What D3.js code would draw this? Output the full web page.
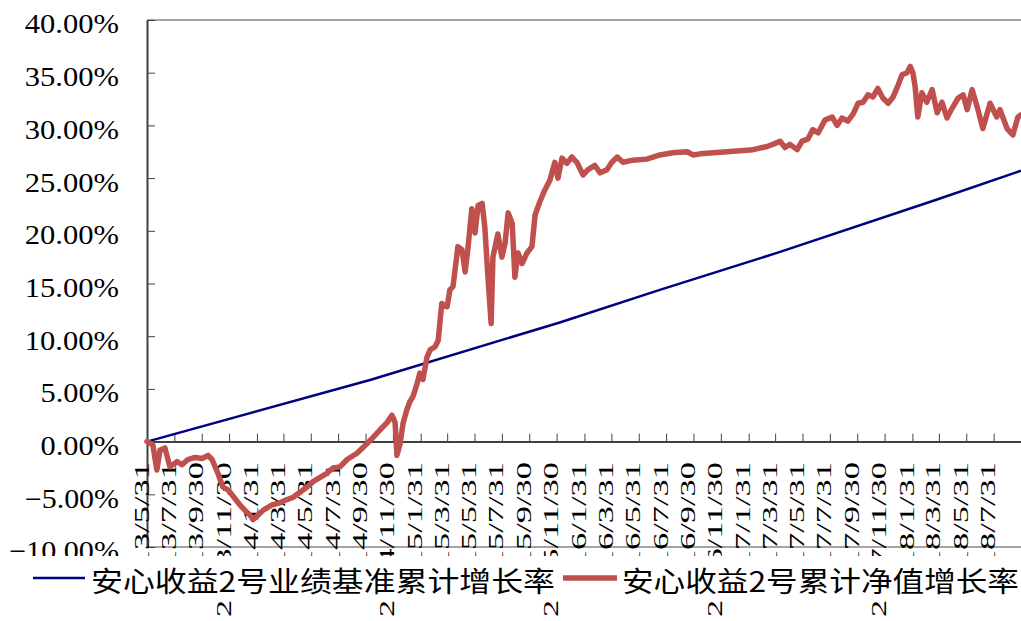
<!DOCTYPE html>
<html>
<head>
<meta charset="utf-8">
<script src="https://cdn.jsdelivr.net/npm/d3@7"></script>
<style>
  body { margin: 0; background: #fff; }
</style>
</head>
<body>
<script>
// donnees (valeurs en %)
const navDates = [
  "2013-05-31","2013-06-13","2013-06-22","2013-06-29","2013-07-10","2013-07-21","2013-08-06","2013-08-17",
  "2013-08-30","2013-09-15","2013-10-01","2013-10-14","2013-10-23","2013-11-05","2013-11-16","2013-11-28",
  "2013-12-13","2013-12-24","2014-01-04","2014-01-16","2014-01-22","2014-02-02","2014-02-14","2014-03-06",
  "2014-03-23","2014-04-08","2014-04-21","2014-05-07","2014-05-23","2014-06-05","2014-06-21","2014-07-06",
  "2014-07-20","2014-08-04","2014-08-20","2014-09-11","2014-10-03","2014-10-17","2014-11-01","2014-11-17",
  "2014-11-28","2014-12-05","2014-12-09","2014-12-16","2014-12-23","2014-12-31","2015-01-07","2015-01-14",
  "2015-01-23","2015-01-29","2015-02-05","2015-02-14","2015-02-21","2015-03-04","2015-03-11","2015-03-19",
  "2015-03-31","2015-04-06","2015-04-13","2015-04-24","2015-05-03","2015-05-10","2015-05-16","2015-05-25",
  "2015-06-01","2015-06-08","2015-06-17","2015-06-23","2015-06-30","2015-07-07","2015-07-11","2015-07-22",
  "2015-07-31","2015-08-07","2015-08-14","2015-08-23","2015-08-29","2015-09-05","2015-09-14","2015-09-25",
  "2015-10-06","2015-10-13","2015-10-24","2015-11-04","2015-11-15","2015-11-26","2015-12-03","2015-12-12",
  "2015-12-23","2016-01-03","2016-01-14","2016-01-28","2016-02-08","2016-02-23","2016-03-06","2016-03-21",
  "2016-04-01","2016-04-13","2016-04-26","2016-05-18","2016-06-18","2016-07-17","2016-08-15","2016-09-16",
  "2016-09-29","2016-10-15","2016-11-13","2016-12-14","2017-01-12","2017-02-10","2017-03-13","2017-03-26",
  "2017-04-11","2017-04-22","2017-05-03","2017-05-19","2017-05-30","2017-06-12","2017-06-23","2017-07-05",
  "2017-07-20","2017-08-05","2017-08-16","2017-08-27","2017-09-09","2017-09-21","2017-10-02","2017-10-13",
  "2017-10-24","2017-11-04","2017-11-15","2017-11-26","2017-12-08","2017-12-19","2017-12-30","2018-01-08",
  "2018-01-19","2018-01-26","2018-02-01","2018-02-06","2018-02-12","2018-02-21","2018-03-04","2018-03-16",
  "2018-03-27","2018-04-07","2018-04-18","2018-04-29","2018-05-13","2018-05-24","2018-06-02","2018-06-13",
  "2018-06-26","2018-07-07","2018-07-23","2018-08-07","2018-08-14","2018-08-30","2018-09-12","2018-09-23",
  "2018-09-30"
];
const navGrowth = [
  0.0,-0.3,-2.7,-0.8,-0.6,-2.4,-1.9,-2.2,
  -1.7,-1.5,-1.6,-1.3,-1.7,-3.0,-4.3,-4.6,
  -5.4,-6.0,-6.5,-7.0,-7.4,-7.0,-6.5,-6.0,
  -5.8,-5.5,-5.3,-4.8,-4.3,-3.8,-3.4,-3.0,
  -2.5,-2.4,-1.7,-1.1,-0.2,0.4,1.1,1.8,
  2.5,1.8,-1.3,-0.2,1.8,3.0,3.8,4.3,
  5.5,6.5,5.9,8.0,8.7,9.0,9.6,13.1,
  12.8,14.4,14.7,18.5,18.2,16.1,18.2,22.1,
  19.8,22.4,22.6,20.3,15.6,11.2,17.5,19.7,
  17.5,18.8,21.7,20.7,15.6,17.9,16.9,17.9,
  18.5,21.5,22.8,23.9,24.8,26.5,25.0,26.9,
  26.4,27.0,26.5,25.3,25.8,26.2,25.5,25.8,
  26.5,27.0,26.5,26.7,26.8,27.2,27.4,27.5,
  27.2,27.3,27.4,27.5,27.6,27.7,28.0,28.2,
  28.5,27.9,28.2,27.7,28.5,28.7,29.6,29.3,
  30.5,30.8,30.0,30.7,30.4,31.1,32.1,32.2,
  32.9,32.7,33.5,32.6,32.1,32.7,33.8,34.8,
  35.0,35.6,35.0,33.7,30.8,33.1,32.2,33.4,
  31.2,32.2,30.7,31.6,32.6,32.9,31.5,33.4,
  31.5,29.7,32.1,30.8,31.5,29.7,29.1,30.8,
  31.0
];

const benchDates = ["2013-05-31","2014-10-10","2015-12-07","2016-07-17","2017-04-11","2018-03-22","2018-09-30"];
const benchGrowth = [0.0, 5.85, 11.3, 14.4, 18.0, 22.9, 25.7];

const tickLabels = [
  "2013/5/31","2013/7/31","2013/9/30","2013/11/30",
  "2014/1/31","2014/3/31","2014/5/31","2014/7/31","2014/9/30","2014/11/30",
  "2015/1/31","2015/3/31","2015/5/31","2015/7/31","2015/9/30","2015/11/30",
  "2016/1/31","2016/3/31","2016/5/31","2016/7/31","2016/9/30","2016/11/30",
  "2017/1/31","2017/3/31","2017/5/31","2017/7/31","2017/9/30","2017/11/30",
  "2018/1/31","2018/3/31","2018/5/31","2018/7/31"
];
const yTicks = [-0.10, -0.05, 0, 0.05, 0.10, 0.15, 0.20, 0.25, 0.30, 0.35, 0.40];

const benchName = "安心收益2号业绩基准累计增长率";
const navName = "安心收益2号累计净值增长率";

const W = 1021, H = 621;
const mLeft = 147, mRight = 1021, mTop = 20, mBottom = 547;

const parse = d3.timeParse("%Y-%m-%d");
const parseTick = d3.timeParse("%Y/%m/%d");
const fmtTick = d3.timeFormat("%Y/%-m/%-d");

const nav = navDates.map((d, i) => ({ date: parse(d), v: navGrowth[i] / 100 }));
const bench = benchDates.map((d, i) => ({ date: parse(d), v: benchGrowth[i] / 100 }));
const tickDates = tickLabels.map(parseTick);

let svg = d3.select("body")
    .append("svg")
    .attr("width", W)
    .attr("height", H)
    .style("display", "block");

svg.append("rect").attr("width", W).attr("height", H).attr("fill", "#fff");

const x = d3.scaleTime()
    .domain([parse("2013-05-31"), parse("2018-09-30")])
    .range([mLeft, mRight]);
const y = d3.scaleLinear()
    .domain([-0.10, 0.40])
    .range([mBottom, mTop]);

// cadre de la zone de tracé
svg.append("line")
    .attr("x1", mLeft).attr("x2", mRight)
    .attr("y1", mTop).attr("y2", mTop)
    .attr("stroke", "#868686").attr("stroke-width", 1.5);
svg.append("line")
    .attr("x1", mLeft).attr("x2", mRight)
    .attr("y1", mBottom).attr("y2", mBottom)
    .attr("stroke", "#868686").attr("stroke-width", 1.5);

// axe Y
const fmtPct = d3.format(".2%");
const yAxis = svg.append("g")
    .attr("transform", `translate(${mLeft},0)`)
    .call(d3.axisLeft(y).tickValues(yTicks).tickSizeInner(-8).tickSizeOuter(0).tickPadding(28).tickFormat(fmtPct));
yAxis.select(".domain").attr("stroke", "#404040").attr("stroke-width", 2);
yAxis.selectAll(".tick line").attr("stroke", "#404040").attr("stroke-width", 1);
yAxis.selectAll("text")
    .attr("dy", "0.48em")
    .style("font-family", "'Liberation Serif', serif")
    .style("font-size", "27px")
    .attr("fill", "#000")
    .attr("textLength", d => fmtPct(d).length * 15.7)
    .attr("lengthAdjust", "spacingAndGlyphs");

// axe X (sur la ligne 0)
const xAxis = svg.append("g")
    .attr("transform", `translate(0,${y(0)})`)
    .call(d3.axisBottom(x).tickValues(tickDates).tickSizeInner(-8).tickSizeOuter(0).tickFormat(fmtTick));
xAxis.select(".domain").attr("stroke", "#404040").attr("stroke-width", 2);
xAxis.selectAll(".tick line").attr("stroke", "#404040").attr("stroke-width", 1);
xAxis.selectAll("text")
    .attr("transform", "rotate(-90)")
    .attr("x", -(462 - y(0)))
    .attr("y", 1)
    .attr("dy", 0)
    .attr("text-anchor", "end")
    .style("font-family", "'Liberation Serif', serif")
    .style("font-size", "20px")
    .attr("fill", "#000")
    .attr("textLength", d => fmtTick(d).length * 15.5)
    .attr("lengthAdjust", "spacingAndGlyphs");

// courbes
const line = d3.line()
    .x(d => x(d.date))
    .y(d => y(d.v));

svg.append("path")
    .datum(bench)
    .attr("d", line)
    .attr("fill", "none")
    .attr("stroke", "#000080")
    .attr("stroke-width", 2.5);

svg.append("path")
    .datum(nav)
    .attr("d", line)
    .attr("fill", "none")
    .attr("stroke", "#C0504D")
    .attr("stroke-width", 5.5)
    .attr("stroke-linejoin", "round")
    .attr("stroke-linecap", "round");

// légende
const legend = svg.append("g");
legend.append("rect")
    .attr("x", 0).attr("y", 556)
    .attr("width", W).attr("height", 45)
    .attr("fill", "#fff");

const items = [
  { name: benchName, color: "#000080", w: 2.5, x0: 33, x1: 85, tx: 91, tl: 464 },
  { name: navName, color: "#C0504D", w: 5.5, x0: 563, x1: 617, tx: 622, tl: 397 }
];
items.forEach(it => {
  legend.append("line")
    .attr("x1", it.x0).attr("x2", it.x1)
    .attr("y1", 578).attr("y2", 578)
    .attr("stroke", it.color)
    .attr("stroke-width", it.w);
  legend.append("text")
    .attr("x", it.tx).attr("y", 592)
    .style("font-family", "'Noto Sans CJK SC', sans-serif")
    .style("font-size", "28px")
    .attr("fill", "#000")
    .attr("textLength", it.tl)
    .attr("lengthAdjust", "spacingAndGlyphs")
    .text(it.name);
});
</script>
</body>
</html>
